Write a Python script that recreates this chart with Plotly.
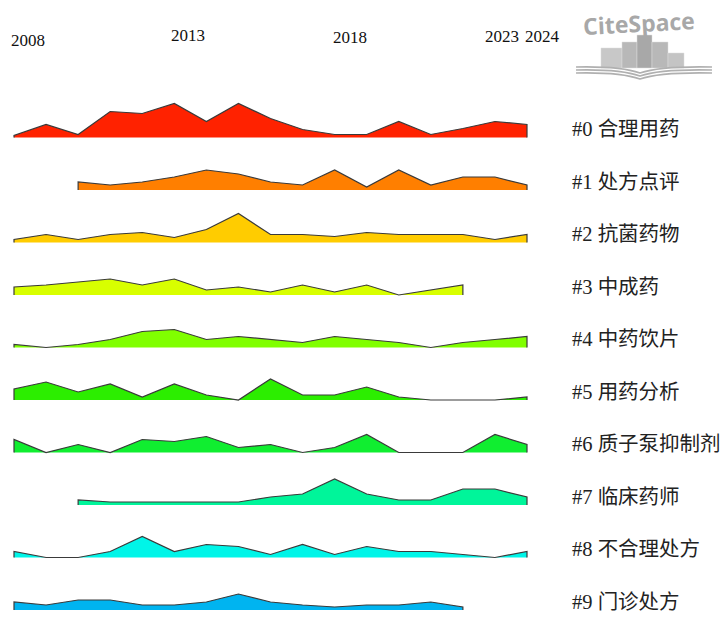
import plotly.graph_objects as go

W, H = 724, 617

years = list(range(2008, 2025))
tick_years = [2008, 2013, 2018, 2023, 2024]

labels = ["#0 合理用药", "#1 处方点评", "#2 抗菌药物", "#3 中成药", "#4 中药饮片",
          "#5 用药分析", "#6 质子泵抑制剂", "#7 临床药师", "#8 不合理处方", "#9 门诊处方"]

colors = ["#FF2200", "#FF7F00", "#FFCC00", "#D8FF00", "#80FF00",
          "#2CEE00", "#10EE30", "#00F59A", "#00F5E8", "#00B4F0"]

r0 = [2, 13, 3, 26, 24, 34, 16, 34, 19, 8, 3, 3, 16, 3, 9, 16, 13]
r1 = [None, None, 8, 5, 8, 13, 20, 16, 8, 5, 20, 3, 20, 5, 13, 13, 5]
r2 = [3, 8, 3, 8, 10, 5, 13, 29, 8, 8, 6, 10, 8, 8, 8, 3, 8]
r3 = [8, 10, 13, 16, 10, 16, 5, 8, 3, 10, 3, 10, 0, 5, 10, None, None]
r4 = [3, 0, 3, 8, 16, 18, 8, 11, 8, 5, 11, 8, 5, 0, 5, 8, 11]
r5 = [11, 18, 8, 16, 3, 16, 5, 0, 21, 5, 5, 13, 3, 0, 0, 0, 3]
r6 = [13, 0, 8, 0, 13, 11, 16, 5, 8, 0, 5, 18, 0, 0, 0, 18, 8]
r7 = [None, None, 5, 3, 3, 3, 3, 3, 8, 11, 26, 11, 5, 5, 16, 16, 8]
r8 = [6, 0, 0, 6, 21, 6, 13, 11, 3, 13, 3, 11, 6, 6, 3, 0, 6]
r9 = [8, 5, 10, 10, 5, 5, 8, 16, 8, 5, 3, 5, 5, 8, 3, None, None]
series = [r0, r1, r2, r3, r4, r5, r6, r7, r8, r9]

# layout constants (pixels)
base0, gap = 137.5, 52.5
px_per_year = (527 - 14) / 16.0
x0 = 2008 - 14 / px_per_year
x1 = x0 + W / px_per_year

fig = go.Figure()
for i, vals in enumerate(series):
    b = base0 + gap * i
    xs = [y for y, v in zip(years, vals) if v is not None]
    tops = [b - v for v in vals if v is not None]
    fig.add_trace(go.Scatter(
        x=xs + [xs[-1], xs[0]], y=tops + [b, b], fill="toself",
        fillcolor=colors[i], mode="lines", line=dict(width=0),
        hoverinfo="skip", showlegend=False))
    fig.add_trace(go.Scatter(
        x=[xs[0]] + xs + [xs[-1]], y=[b] + tops + [b], mode="lines",
        line=dict(color="#3a3a3a", width=1.2), hoverinfo="skip", showlegend=False))

annotations = []
serif = "Liberation Serif, Times New Roman, Noto Sans CJK SC, serif"
ylab = {2008: 40, 2013: 35, 2018: 37, 2023: 36, 2024: 36}
xoff = {2008: 14, 2013: 14, 2018: 15, 2023: 7, 2024: 15}
for t in tick_years:
    annotations.append(dict(x=t, y=ylab[t], xref="x", yref="y", text=str(t),
                            showarrow=False, xshift=xoff[t],
                            font=dict(family=serif, size=17, color="#111")))
for i, lab in enumerate(labels):
    b = base0 + gap * i
    annotations.append(dict(x=570 / W, y=b - 8.5, xref="paper", yref="y", text=lab,
                            showarrow=False, xanchor="left", yanchor="middle",
                            font=dict(family=serif, size=20.5, color="#222")))

# CiteSpace logo
annotations.append(dict(x=639 / W, y=1 - 23 / H, xref="paper", yref="paper",
                        text="<b>CiteSpace</b>", showarrow=False, textangle=-3,
                        xanchor="center", yanchor="middle",
                        font=dict(family="Open Sans, DejaVu Sans, sans-serif", size=23,
                                  color="#a8a8a8")))
shapes = []
bars = [(601, 622, 48, "#c8c8c8"), (622, 637, 42, "#b8b8b8"), (637, 652, 35, "#a8a8a8"),
        (652, 668, 42, "#b8b8b8"), (668, 684, 53, "#c4c4c4")]
for (a, c, top, col) in bars:
    shapes.append(dict(type="rect", xref="paper", yref="paper",
                       x0=a / W, x1=c / W, y0=1 - 68 / H, y1=1 - top / H,
                       fillcolor=col, line=dict(width=0.5, color="#dddddd")))
for k, dy in enumerate([0, 3, 6]):
    path = "M {:.4f},{:.4f} Q {:.4f},{:.4f} {:.4f},{:.4f} Q {:.4f},{:.4f} {:.4f},{:.4f}".format(
        576 / W, 1 - (67 + dy) / H,
        620 / W, 1 - (66 + dy) / H,
        640 / W, 1 - (73 + dy) / H,
        660 / W, 1 - (66 + dy) / H,
        712 / W, 1 - (67 + dy) / H)
    shapes.append(dict(type="path", xref="paper", yref="paper", path=path,
                       line=dict(color="#b0b0b0", width=1.6)))

fig.update_layout(
    width=W, height=H, margin=dict(l=0, r=0, t=0, b=0),
    paper_bgcolor="white", plot_bgcolor="white",
    xaxis=dict(range=[x0, x1], visible=False, fixedrange=True),
    yaxis=dict(range=[H, 0], visible=False, fixedrange=True),
    annotations=annotations, shapes=shapes, showlegend=False)

fig.write_html("out.html", config={"displayModeBar": False},
               post_script="document.body.style.margin='0px';document.body.style.overflow='hidden';")
